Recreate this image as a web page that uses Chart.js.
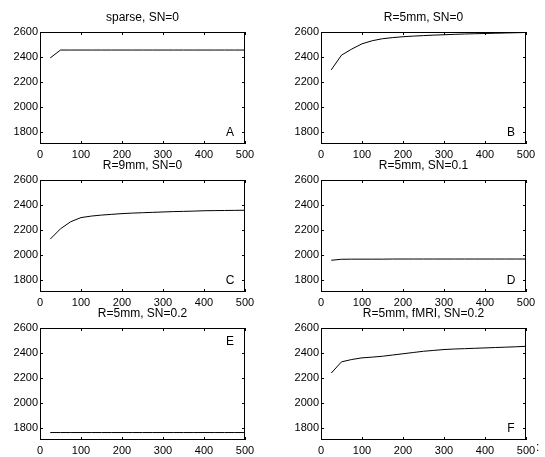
<!DOCTYPE html>
<html>
<head>
<meta charset="utf-8">
<script src="https://cdn.jsdelivr.net/npm/chart.js@4/dist/chart.umd.min.js"></script>
<style>
  body { margin: 0; background: #fff; width: 545px; height: 457px; overflow: hidden; position: relative; font-family: "Liberation Sans", Arial, sans-serif; }
  .panel { position: absolute; }
  #colon { position: absolute; left: 536px; top: 440px; font-size: 12px; color: #000; }
</style>
</head>
<body>
<div class="panel" style="left:0px;top:8px"><canvas id="cA" width="257" height="156"></canvas></div>
<div class="panel" style="left:281px;top:8px"><canvas id="cB" width="257" height="156"></canvas></div>
<div class="panel" style="left:0px;top:156px"><canvas id="cC" width="257" height="156"></canvas></div>
<div class="panel" style="left:281px;top:156px"><canvas id="cD" width="257" height="156"></canvas></div>
<div class="panel" style="left:0px;top:304px"><canvas id="cE" width="257" height="156"></canvas></div>
<div class="panel" style="left:281px;top:304px"><canvas id="cF" width="257" height="156"></canvas></div>
<span id="colon">:</span>
<script>
// sample positions (x axis)
const xVals = [25, 50, 75, 100, 125, 150, 175, 200, 225, 250, 275, 300, 325, 350, 375, 400, 425, 450, 475, 500];
const xTicks = [0, 100, 200, 300, 400, 500];
const yTicks = [1800, 2000, 2200, 2400, 2600];

const titles = ['sparse, SN=0', 'R=5mm, SN=0', 'R=9mm, SN=0', 'R=5mm, SN=0.1', 'R=5mm, SN=0.2', 'R=5mm, fMRI, SN=0.2'];
const letters = ['A', 'B', 'C', 'D', 'E', 'F'];

const seriesA = [2392, 2455, 2455, 2455, 2455, 2455, 2455, 2455, 2455, 2455, 2455, 2455, 2455, 2455, 2455, 2455, 2455, 2455, 2455, 2455];
const seriesB = [2296, 2414, 2463, 2505, 2530, 2546, 2555, 2562, 2567, 2571, 2575, 2578, 2581, 2584, 2586, 2588, 2590, 2592, 2594, 2596];
const seriesC = [2125, 2208, 2265, 2298, 2310, 2318, 2324, 2330, 2334, 2337, 2340, 2343, 2346, 2348, 2350, 2353, 2354, 2355, 2356, 2357];
const seriesD = [1955, 1963, 1964, 1964, 1964, 1964, 1965, 1965, 1965, 1965, 1965, 1965, 1965, 1965, 1965, 1965, 1965, 1965, 1965, 1965];
const seriesE = [1760, 1760, 1760, 1760, 1760, 1760, 1760, 1760, 1760, 1760, 1760, 1760, 1760, 1760, 1760, 1760, 1760, 1760, 1760, 1760];
const seriesF = [2238, 2328, 2347, 2360, 2366, 2373, 2383, 2393, 2403, 2413, 2420, 2427, 2431, 2434, 2437, 2440, 2443, 2446, 2449, 2453];

const allSeries = [seriesA, seriesB, seriesC, seriesD, seriesE, seriesF];
const ids = ['cA', 'cB', 'cC', 'cD', 'cE', 'cF'];

// matlab style box with inward ticks + panel letter
const boxPlugin = {
  id: 'box',
  afterDraw(chart, args, opts) {
    const ctx = chart.ctx;
    const a = chart.chartArea;
    const sx = chart.scales.x, sy = chart.scales.y;
    ctx.save();
    ctx.strokeStyle = '#000';
    ctx.lineWidth = 1;
    ctx.strokeRect(a.left + 0.5, a.top + 0.5, a.width - 1, a.height - 1);
    ctx.beginPath();
    sx.ticks.forEach(t => {
      const px = Math.round(sx.getPixelForValue(t.value)) + 0.5;
      ctx.moveTo(px, a.top); ctx.lineTo(px, a.top + 3);
      ctx.moveTo(px, a.bottom); ctx.lineTo(px, a.bottom - 3);
    });
    sy.ticks.forEach(t => {
      const py = Math.round(sy.getPixelForValue(t.value)) + 0.5;
      ctx.moveTo(a.left, py); ctx.lineTo(a.left + 3, py);
      ctx.moveTo(a.right, py); ctx.lineTo(a.right - 3, py);
    });
    ctx.stroke();
    ctx.fillStyle = '#000';
    ctx.font = '12px "Liberation Sans", Arial, sans-serif';
    ctx.textAlign = 'center';
    ctx.textBaseline = 'middle';
    const ly = opts.top ? a.top + 14 : a.bottom - 11;
    ctx.fillText(opts.letter, a.right - 15, ly);
    ctx.restore();
  }
};

const tickFont = { family: '"Liberation Sans", Arial, sans-serif', size: 11 };

ids.forEach((id, i) => {
  new Chart(id, {
    type: 'line',
    data: {
      datasets: [{
        data: xVals.map((x, k) => ({ x: x, y: allSeries[i][k] })),
        borderColor: '#000',
        borderWidth: 1,
        pointRadius: 0,
        fill: false,
        tension: 0
      }]
    },
    options: {
      responsive: false,
      animation: false,
      devicePixelRatio: 1,
      layout: { padding: { left: 0, right: 12, top: 0, bottom: 0 } },
      plugins: {
        legend: { display: false },
        tooltip: { enabled: false },
        title: {
          display: true,
          fullSize: false,
          text: titles[i],
          color: '#000',
          font: { family: '"Liberation Sans", Arial, sans-serif', size: 12, weight: 'normal', lineHeight: '14px' },
          padding: { top: 3, bottom: 7 }
        },
        box: { letter: letters[i], top: i === 4 }
      },
      scales: {
        x: {
          type: 'linear',
          min: 0,
          max: 500,
          grid: { display: false, drawTicks: false },
          border: { display: false },
          afterBuildTicks: s => { s.ticks = xTicks.map(v => ({ value: v })); },
          afterFit: s => { s.height = 20; s.paddingLeft = 0; s.paddingRight = 0; },
          ticks: {
            color: '#000',
            padding: 4,
            maxRotation: 0,
            autoSkip: false,
            font: tickFont,
            callback: v => String(v)
          }
        },
        y: {
          min: 1700,
          max: 2600,
          grid: { display: false, drawTicks: false },
          border: { display: false },
          afterBuildTicks: s => { s.ticks = yTicks.map(v => ({ value: v })); },
          afterFit: s => { s.width = 40; s.paddingTop = 0; s.paddingBottom = 0; },
          ticks: {
            color: '#000',
            padding: 2,
            font: tickFont,
            callback: v => String(v)
          }
        }
      }
    },
    plugins: [boxPlugin]
  });
});
</script>
</body>
</html>
